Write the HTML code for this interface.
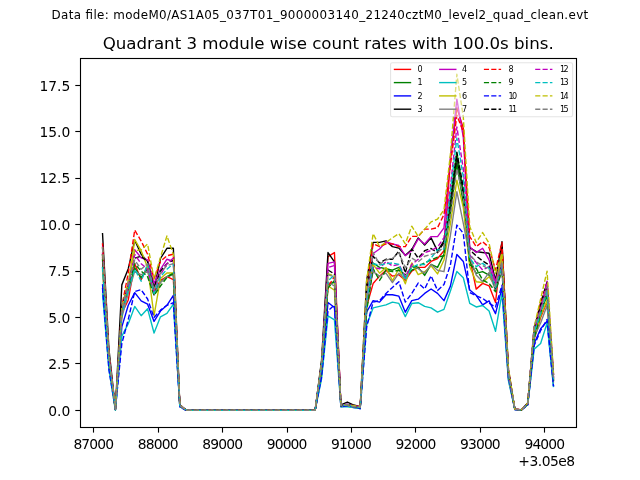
<!DOCTYPE html>
<html><head><meta charset="utf-8"><title>Quadrant 3 module wise count rates</title>
<style>
html,body{margin:0;padding:0;background:#fff;}
svg{display:block;font-family:"DejaVu Sans","Liberation Sans",sans-serif;fill:#000;}
.tl{font-size:13.89px;}
.lg text{font-size:8.04px;}
</style></head><body>
<svg width="640" height="480" viewBox="0 0 640 480">
<rect width="640" height="480" fill="#fff"/>
<text x="51.6" y="19.4" font-size="11.9" textLength="536.6" lengthAdjust="spacing">Data file: modeM0/AS1A05_037T01_9000003140_21240cztM0_level2_quad_clean.evt</text>
<text x="102.7" y="49.2" font-size="16.67" textLength="451" lengthAdjust="spacing">Quadrant 3 module wise count rates with 100.0s bins.</text>
<defs><clipPath id="c"><rect x="80" y="57.6" width="496" height="369.6"/></clipPath></defs>
<g fill="none" stroke-width="1.39" stroke-linejoin="round" stroke-linecap="butt" clip-path="url(#c)">
<polyline points="102.50,257.01 108.94,360.70 115.39,409.50 121.83,313.11 128.27,299.97 134.72,263.70 141.16,279.67 147.60,265.93 154.04,291.55 160.49,280.41 166.93,276.70 173.37,279.67 179.82,405.79 186.26,410.04 192.70,410.40 199.14,410.40 205.59,410.40 212.03,410.40 218.47,410.40 224.92,410.40 231.36,410.40 237.80,410.40 244.25,410.40 250.69,410.40 257.13,410.40 263.57,410.40 270.02,410.40 276.46,410.40 282.90,410.40 289.35,410.40 295.79,410.40 302.23,410.40 308.68,410.40 315.12,410.40 321.56,372.12 328.00,256.64 334.45,252.55 340.89,405.63 347.33,404.61 353.78,406.83 360.22,407.60 366.66,306.41 373.11,283.57 379.55,276.14 385.99,270.20 392.44,276.14 398.88,274.65 405.32,280.41 411.76,271.12 418.21,267.41 424.65,267.41 431.09,261.47 437.54,258.50 443.98,250.70 450.42,159.70 456.86,107.71 463.31,128.14 469.75,258.31 476.19,289.14 482.64,283.38 489.08,285.80 495.52,302.51 501.97,245.13 508.41,371.89 514.85,409.33 521.29,410.05 527.74,404.36 534.18,339.28 540.62,317.49 547.07,301.68 553.51,378.83" stroke="#ff0000"/>
<polyline points="102.50,254.36 108.94,355.49 115.39,409.48 121.83,310.76 128.27,290.20 134.72,267.97 141.16,277.62 147.60,269.27 154.04,293.41 160.49,282.27 166.93,276.70 173.37,272.98 179.82,405.86 186.26,410.03 192.70,410.40 199.14,410.40 205.59,410.40 212.03,410.40 218.47,410.40 224.92,410.40 231.36,410.40 237.80,410.40 244.25,410.40 250.69,410.40 257.13,410.40 263.57,410.40 270.02,410.40 276.46,410.40 282.90,410.40 289.35,410.40 295.79,410.40 302.23,410.40 308.68,410.40 315.12,410.40 321.56,367.44 328.00,284.12 334.45,282.27 340.89,405.81 347.33,404.77 353.78,406.54 360.22,407.56 366.66,307.65 373.11,262.95 379.55,267.41 385.99,268.71 392.44,270.20 398.88,267.41 405.32,277.44 411.76,270.20 418.21,267.41 424.65,275.40 431.09,264.44 437.54,267.41 443.98,254.41 450.42,212.53 456.86,163.42 463.31,203.52 469.75,261.84 476.19,273.35 482.64,271.68 489.08,275.02 495.52,285.05 501.97,263.70 508.41,373.14 514.85,409.34 521.29,410.06 527.74,403.81 534.18,336.28 540.62,312.05 547.07,295.73 553.51,380.69" stroke="#008000"/>
<polyline points="102.50,284.12 108.94,365.83 115.39,409.47 121.83,326.83 128.27,305.29 134.72,292.67 141.16,300.84 147.60,304.18 154.04,321.45 160.49,311.05 166.93,305.29 173.37,295.27 179.82,406.69 186.26,410.40 192.70,410.40 199.14,410.40 205.59,410.40 212.03,410.40 218.47,410.40 224.92,410.40 231.36,410.40 237.80,410.40 244.25,410.40 250.69,410.40 257.13,410.40 263.57,410.40 270.02,410.40 276.46,410.40 282.90,410.40 289.35,410.40 295.79,410.40 302.23,410.40 308.68,410.40 315.12,410.40 321.56,375.12 328.00,302.51 334.45,307.52 340.89,406.69 347.33,405.76 353.78,407.61 360.22,408.54 366.66,311.98 373.11,300.65 379.55,302.14 385.99,294.71 392.44,294.71 398.88,296.19 405.32,312.16 411.76,300.65 418.21,299.17 424.65,293.41 431.09,288.95 437.54,293.41 443.98,300.65 450.42,286.13 456.86,254.41 463.31,261.43 469.75,290.07 476.19,295.27 482.64,304.92 489.08,300.84 495.52,313.65 501.97,287.84 508.41,378.83 514.85,409.47 521.29,410.03 527.74,404.83 534.18,343.55 540.62,328.69 547.07,321.26 553.51,386.26" stroke="#0000ff"/>
<polyline points="102.50,233.06 108.94,349.12 115.39,408.54 121.83,284.87 128.27,268.71 134.72,240.30 141.16,254.23 147.60,261.47 154.04,289.14 160.49,258.50 166.93,248.28 173.37,248.28 179.82,404.83 186.26,410.40 192.70,410.40 199.14,410.40 205.59,410.40 212.03,410.40 218.47,410.40 224.92,410.40 231.36,410.40 237.80,410.40 244.25,410.40 250.69,410.40 257.13,410.40 263.57,410.40 270.02,410.40 276.46,410.40 282.90,410.40 289.35,410.40 295.79,410.40 302.23,410.40 308.68,410.40 315.12,410.40 321.56,360.26 328.00,252.55 334.45,261.84 340.89,404.83 347.33,402.04 353.78,405.01 360.22,406.69 366.66,280.41 373.11,242.34 379.55,242.34 385.99,240.86 392.44,246.61 398.88,248.10 405.32,255.34 411.76,249.58 418.21,237.88 424.65,245.13 431.09,237.88 437.54,251.07 443.98,240.86 450.42,207.87 456.86,156.92 463.31,194.31 469.75,247.54 476.19,251.63 482.64,252.55 489.08,253.30 495.52,280.41 501.97,241.60 508.41,369.55 514.85,409.10 521.29,409.84 527.74,402.97 534.18,328.69 540.62,306.41 547.07,287.84 553.51,375.12" stroke="#000000"/>
<polyline points="102.50,252.55 108.94,356.55 115.39,408.54 121.83,308.26 128.27,284.12 134.72,249.77 141.16,257.75 147.60,259.98 154.04,283.38 160.49,269.27 166.93,259.24 173.37,261.47 179.82,404.83 186.26,410.40 192.70,410.40 199.14,410.40 205.59,410.40 212.03,410.40 218.47,410.40 224.92,410.40 231.36,410.40 237.80,410.40 244.25,410.40 250.69,410.40 257.13,410.40 263.57,410.40 270.02,410.40 276.46,410.40 282.90,410.40 289.35,410.40 295.79,410.40 302.23,410.40 308.68,410.40 315.12,410.40 321.56,363.97 328.00,263.33 334.45,261.84 340.89,404.83 347.33,404.83 353.78,405.76 360.22,406.69 366.66,295.27 373.11,253.48 379.55,249.03 385.99,241.78 392.44,244.01 398.88,245.50 405.32,255.71 411.76,250.70 418.21,238.81 424.65,244.01 431.09,236.58 437.54,236.58 443.98,227.86 450.42,157.85 456.86,99.17 463.31,137.42 469.75,246.98 476.19,252.55 482.64,248.28 489.08,259.98 495.52,281.71 501.97,258.13 508.41,371.40 514.85,409.10 521.29,409.84 527.74,402.97 534.18,332.41 540.62,308.26 547.07,289.69 553.51,376.97" stroke="#bf00bf"/>
<polyline points="102.50,293.41 108.94,369.55 115.39,410.40 121.83,336.12 128.27,323.68 134.72,306.41 141.16,315.69 147.60,308.82 154.04,332.96 160.49,316.81 166.93,313.46 173.37,304.18 179.82,406.69 186.26,410.40 192.70,410.40 199.14,410.40 205.59,410.40 212.03,410.40 218.47,410.40 224.92,410.40 231.36,410.40 237.80,410.40 244.25,410.40 250.69,410.40 257.13,410.40 263.57,410.40 270.02,410.40 276.46,410.40 282.90,410.40 289.35,410.40 295.79,410.40 302.23,410.40 308.68,410.40 315.12,410.40 321.56,378.83 328.00,315.88 334.45,319.96 340.89,406.69 347.33,406.69 353.78,407.61 360.22,408.54 366.66,324.98 373.11,307.89 379.55,306.41 385.99,304.92 392.44,302.14 398.88,303.44 405.32,316.62 411.76,303.44 418.21,302.69 424.65,306.41 431.09,307.89 437.54,312.16 443.98,309.38 450.42,290.94 456.86,271.50 463.31,277.75 469.75,303.44 476.19,306.97 482.64,305.48 489.08,311.05 495.52,331.29 501.97,293.41 508.41,380.69 514.85,409.47 521.29,410.03 527.74,404.83 534.18,349.12 540.62,343.55 547.07,323.12 553.51,387.19" stroke="#00bfbf"/>
<polyline points="102.50,269.20 108.94,362.08 115.39,409.52 121.83,313.84 128.27,285.98 134.72,239.56 141.16,250.70 147.60,267.41 154.04,315.69 160.49,278.55 166.93,272.98 173.37,272.98 179.82,405.73 186.26,410.03 192.70,410.40 199.14,410.40 205.59,410.40 212.03,410.40 218.47,410.40 224.92,410.40 231.36,410.40 237.80,410.40 244.25,410.40 250.69,410.40 257.13,410.40 263.57,410.40 270.02,410.40 276.46,410.40 282.90,410.40 289.35,410.40 295.79,410.40 302.23,410.40 308.68,410.40 315.12,410.40 321.56,370.16 328.00,285.98 334.45,290.07 340.89,405.73 347.33,405.03 353.78,407.09 360.22,407.87 366.66,304.06 373.11,264.44 379.55,273.17 385.99,267.41 392.44,280.78 398.88,268.71 405.32,283.75 411.76,262.95 418.21,274.65 424.65,271.68 431.09,265.93 437.54,273.91 443.98,259.98 450.42,223.75 456.86,180.13 463.31,207.65 469.75,266.67 476.19,281.71 482.64,282.45 489.08,276.70 495.52,286.72 501.97,254.97 508.41,374.98 514.85,409.38 521.29,410.05 527.74,404.02 534.18,338.16 540.62,315.98 547.07,300.59 553.51,380.69" stroke="#bfbf00"/>
<polyline points="102.50,266.68 108.94,360.83 115.39,409.46 121.83,317.55 128.27,293.41 134.72,271.12 141.16,274.84 147.60,271.12 154.04,295.27 160.49,282.27 166.93,276.70 173.37,274.84 179.82,406.10 186.26,410.03 192.70,410.40 199.14,410.40 205.59,410.40 212.03,410.40 218.47,410.40 224.92,410.40 231.36,410.40 237.80,410.40 244.25,410.40 250.69,410.40 257.13,410.40 263.57,410.40 270.02,410.40 276.46,410.40 282.90,410.40 289.35,410.40 295.79,410.40 302.23,410.40 308.68,410.40 315.12,410.40 321.56,369.27 328.00,282.27 334.45,285.98 340.89,406.09 347.33,405.33 353.78,406.89 360.22,407.70 366.66,303.43 373.11,271.68 379.55,276.14 385.99,273.17 392.44,282.64 398.88,273.17 405.32,278.92 411.76,265.93 418.21,268.71 424.65,273.17 431.09,264.44 437.54,270.20 443.98,271.68 450.42,235.26 456.86,191.65 463.31,223.33 469.75,256.64 476.19,275.02 482.64,281.71 489.08,272.42 495.52,290.81 501.97,271.12 508.41,377.69 514.85,409.35 521.29,410.04 527.74,404.27 534.18,336.98 540.62,322.96 547.07,305.51 553.51,382.54" stroke="#808080"/>
<polyline points="102.50,243.27 108.94,354.69 115.39,408.54 121.83,306.41 128.27,272.98 134.72,230.09 141.16,241.04 147.60,254.23 154.04,278.92 160.49,261.47 166.93,255.71 173.37,254.23 179.82,404.83 186.26,410.40 192.70,410.40 199.14,410.40 205.59,410.40 212.03,410.40 218.47,410.40 224.92,410.40 231.36,410.40 237.80,410.40 244.25,410.40 250.69,410.40 257.13,410.40 263.57,410.40 270.02,410.40 276.46,410.40 282.90,410.40 289.35,410.40 295.79,410.40 302.23,410.40 308.68,410.40 315.12,410.40 321.56,365.83 328.00,286.72 334.45,276.70 340.89,404.83 347.33,404.83 353.78,405.76 360.22,406.69 366.66,289.69 373.11,243.83 379.55,246.61 385.99,243.83 392.44,243.83 398.88,246.61 405.32,246.61 411.76,236.40 418.21,236.40 424.65,229.16 431.09,229.16 437.54,227.67 443.98,214.49 450.42,165.28 456.86,115.14 463.31,131.85 469.75,236.58 476.19,246.61 482.64,241.60 489.08,247.54 495.52,270.01 501.97,242.53 508.41,369.55 514.85,409.10 521.29,409.84 527.74,402.97 534.18,328.69 540.62,302.69 547.07,282.27 553.51,375.12" stroke="#ff0000" stroke-dasharray="5.14 2.22"/>
<polyline points="102.50,259.14 108.94,361.64 115.39,409.51 121.83,310.83 128.27,288.50 134.72,263.70 141.16,271.12 147.60,276.70 154.04,295.27 160.49,285.98 166.93,277.44 173.37,273.17 179.82,405.72 186.26,410.04 192.70,410.40 199.14,410.40 205.59,410.40 212.03,410.40 218.47,410.40 224.92,410.40 231.36,410.40 237.80,410.40 244.25,410.40 250.69,410.40 257.13,410.40 263.57,410.40 270.02,410.40 276.46,410.40 282.90,410.40 289.35,410.40 295.79,410.40 302.23,410.40 308.68,410.40 315.12,410.40 321.56,371.45 328.00,287.84 334.45,280.41 340.89,405.92 347.33,405.03 353.78,406.75 360.22,407.76 366.66,310.99 373.11,268.71 379.55,280.41 385.99,270.20 392.44,271.68 398.88,270.20 405.32,274.84 411.76,267.41 418.21,265.93 424.65,262.95 431.09,259.98 437.54,257.20 443.98,255.71 450.42,200.86 456.86,152.28 463.31,191.82 469.75,265.00 476.19,268.34 482.64,280.04 489.08,283.38 495.52,291.74 501.97,269.27 508.41,374.15 514.85,409.41 521.29,410.04 527.74,404.12 534.18,338.53 540.62,314.15 547.07,292.14 553.51,380.69" stroke="#008000" stroke-dasharray="5.14 2.22"/>
<polyline points="102.50,287.84 108.94,369.55 115.39,409.47 121.83,343.55 128.27,319.41 134.72,291.55 141.16,289.69 147.60,298.98 154.04,317.55 160.49,310.12 166.93,305.29 173.37,302.69 179.82,406.69 186.26,410.40 192.70,410.40 199.14,410.40 205.59,410.40 212.03,410.40 218.47,410.40 224.92,410.40 231.36,410.40 237.80,410.40 244.25,410.40 250.69,410.40 257.13,410.40 263.57,410.40 270.02,410.40 276.46,410.40 282.90,410.40 289.35,410.40 295.79,410.40 302.23,410.40 308.68,410.40 315.12,410.40 321.56,376.97 328.00,310.86 334.45,305.11 340.89,406.69 347.33,405.76 353.78,406.69 360.22,408.54 366.66,326.83 373.11,302.14 379.55,300.65 385.99,293.41 392.44,287.47 398.88,281.71 405.32,302.14 411.76,293.41 418.21,283.01 424.65,288.95 431.09,275.77 437.54,290.44 443.98,284.50 450.42,264.77 456.86,225.07 463.31,233.41 469.75,292.48 476.19,295.82 482.64,298.42 489.08,303.25 495.52,306.97 501.97,285.24 508.41,376.97 514.85,409.47 521.29,410.03 527.74,404.83 534.18,345.40 540.62,330.55 547.07,319.41 553.51,386.26" stroke="#0000ff" stroke-dasharray="5.14 2.22"/>
<polyline points="102.50,254.05 108.94,354.09 115.39,409.38 121.83,306.41 128.27,284.12 134.72,258.13 141.16,256.27 147.60,261.84 154.04,287.84 160.49,271.12 166.93,263.70 173.37,259.98 179.82,405.18 186.26,410.00 192.70,410.40 199.14,410.40 205.59,410.40 212.03,410.40 218.47,410.40 224.92,410.40 231.36,410.40 237.80,410.40 244.25,410.40 250.69,410.40 257.13,410.40 263.57,410.40 270.02,410.40 276.46,410.40 282.90,410.40 289.35,410.40 295.79,410.40 302.23,410.40 308.68,410.40 315.12,410.40 321.56,362.55 328.00,270.01 334.45,274.10 340.89,405.63 347.33,404.29 353.78,406.37 360.22,407.56 366.66,288.70 373.11,256.27 379.55,262.95 385.99,259.24 392.44,259.24 398.88,251.26 405.32,272.98 411.76,248.84 418.21,258.13 424.65,250.70 431.09,248.47 437.54,252.74 443.98,242.53 450.42,199.30 456.86,152.28 463.31,187.68 469.75,249.96 476.19,255.90 482.64,260.91 489.08,265.00 495.52,288.40 501.97,263.33 508.41,371.23 514.85,409.21 521.29,410.01 527.74,403.16 534.18,328.48 540.62,304.22 547.07,281.95 553.51,378.83" stroke="#000000" stroke-dasharray="5.14 2.22"/>
<polyline points="102.50,246.34 108.94,354.32 115.39,409.40 121.83,311.98 128.27,285.98 134.72,254.41 141.16,263.70 147.60,269.27 154.04,291.55 160.49,274.84 166.93,263.70 173.37,258.13 179.82,405.43 186.26,410.01 192.70,410.40 199.14,410.40 205.59,410.40 212.03,410.40 218.47,410.40 224.92,410.40 231.36,410.40 237.80,410.40 244.25,410.40 250.69,410.40 257.13,410.40 263.57,410.40 270.02,410.40 276.46,410.40 282.90,410.40 289.35,410.40 295.79,410.40 302.23,410.40 308.68,410.40 315.12,410.40 321.56,364.69 328.00,267.41 334.45,265.55 340.89,405.18 347.33,404.06 353.78,406.50 360.22,407.31 366.66,296.63 373.11,267.41 379.55,268.71 385.99,261.47 392.44,265.93 398.88,264.44 405.32,276.70 411.76,264.44 418.21,259.24 424.65,252.74 431.09,250.51 437.54,246.98 443.98,237.70 450.42,187.03 456.86,126.84 463.31,168.96 469.75,254.97 476.19,262.58 482.64,270.01 489.08,266.67 495.52,283.38 501.97,266.67 508.41,372.40 514.85,409.16 521.29,410.00 527.74,403.50 534.18,325.74 540.62,309.51 547.07,281.19 553.51,377.90" stroke="#bf00bf" stroke-dasharray="5.14 2.22"/>
<polyline points="102.50,267.13 108.94,359.51 115.39,409.51 121.83,313.84 128.27,289.69 134.72,269.27 141.16,281.15 147.60,263.70 154.04,293.41 160.49,276.70 166.93,269.27 173.37,263.70 179.82,405.77 186.26,410.01 192.70,410.40 199.14,410.40 205.59,410.40 212.03,410.40 218.47,410.40 224.92,410.40 231.36,410.40 237.80,410.40 244.25,410.40 250.69,410.40 257.13,410.40 263.57,410.40 270.02,410.40 276.46,410.40 282.90,410.40 289.35,410.40 295.79,410.40 302.23,410.40 308.68,410.40 315.12,410.40 321.56,366.01 328.00,280.78 334.45,274.84 340.89,405.56 347.33,404.72 353.78,406.48 360.22,407.63 366.66,299.56 373.11,263.70 379.55,265.18 385.99,263.70 392.44,262.95 398.88,264.44 405.32,279.67 411.76,267.41 418.21,264.44 424.65,264.44 431.09,257.94 437.54,249.77 443.98,249.03 450.42,190.57 456.86,138.16 463.31,176.80 469.75,258.13 476.19,266.67 482.64,263.33 489.08,268.34 495.52,287.84 501.97,265.55 508.41,373.29 514.85,409.28 521.29,410.01 527.74,403.42 534.18,331.82 540.62,313.83 547.07,290.81 553.51,379.76" stroke="#00bfbf" stroke-dasharray="5.14 2.22"/>
<polyline points="102.50,246.98 108.94,354.69 115.39,408.54 121.83,308.26 128.27,280.41 134.72,250.70 141.16,249.77 147.60,244.01 154.04,278.92 160.49,257.38 166.93,235.84 173.37,254.41 179.82,404.83 186.26,410.40 192.70,410.40 199.14,410.40 205.59,410.40 212.03,410.40 218.47,410.40 224.92,410.40 231.36,410.40 237.80,410.40 244.25,410.40 250.69,410.40 257.13,410.40 263.57,410.40 270.02,410.40 276.46,410.40 282.90,410.40 289.35,410.40 295.79,410.40 302.23,410.40 308.68,410.40 315.12,410.40 321.56,362.12 328.00,273.91 334.45,275.77 340.89,404.83 347.33,404.83 353.78,405.76 360.22,406.69 366.66,280.41 373.11,233.61 379.55,246.61 385.99,242.34 392.44,237.88 398.88,233.61 405.32,243.83 411.76,226.19 418.21,236.40 424.65,229.16 431.09,221.91 437.54,219.13 443.98,209.84 450.42,154.13 456.86,74.28 463.31,116.99 469.75,226.56 476.19,242.53 482.64,232.50 489.08,243.27 495.52,273.35 501.97,253.30 508.41,367.69 514.85,409.10 521.29,409.84 527.74,402.97 534.18,326.83 540.62,298.98 547.07,271.12 553.51,373.26" stroke="#bfbf00" stroke-dasharray="5.14 2.22"/>
<polyline points="102.50,247.34 108.94,355.05 115.39,409.44 121.83,310.12 128.27,282.27 134.72,259.98 141.16,269.27 147.60,263.70 154.04,289.69 160.49,272.98 166.93,265.55 173.37,263.70 179.82,405.41 186.26,410.00 192.70,410.40 199.14,410.40 205.59,410.40 212.03,410.40 218.47,410.40 224.92,410.40 231.36,410.40 237.80,410.40 244.25,410.40 250.69,410.40 257.13,410.40 263.57,410.40 270.02,410.40 276.46,410.40 282.90,410.40 289.35,410.40 295.79,410.40 302.23,410.40 308.68,410.40 315.12,410.40 321.56,364.40 328.00,274.84 334.45,276.70 340.89,405.38 347.33,404.36 353.78,406.68 360.22,407.41 366.66,294.25 373.11,252.55 379.55,264.44 385.99,259.98 392.44,258.50 398.88,252.74 405.32,267.41 411.76,258.13 418.21,261.84 424.65,256.27 431.09,254.41 437.54,252.55 443.98,246.98 450.42,215.11 456.86,168.99 463.31,197.06 469.75,254.41 476.19,261.84 482.64,265.55 489.08,269.27 495.52,285.98 501.97,261.84 508.41,371.30 514.85,409.20 521.29,410.01 527.74,403.56 534.18,326.49 540.62,310.80 547.07,286.37 553.51,378.83" stroke="#808080" stroke-dasharray="5.14 2.22"/>
</g>
<g stroke="#000" stroke-width="1.11"><line x1="93.50" y1="427.50" x2="93.50" y2="432.60"/><line x1="158.50" y1="427.50" x2="158.50" y2="432.60"/><line x1="222.50" y1="427.50" x2="222.50" y2="432.60"/><line x1="287.50" y1="427.50" x2="287.50" y2="432.60"/><line x1="351.50" y1="427.50" x2="351.50" y2="432.60"/><line x1="415.50" y1="427.50" x2="415.50" y2="432.60"/><line x1="480.50" y1="427.50" x2="480.50" y2="432.60"/><line x1="544.50" y1="427.50" x2="544.50" y2="432.60"/><line x1="75.30" y1="410.50" x2="80.50" y2="410.50"/><line x1="75.30" y1="363.50" x2="80.50" y2="363.50"/><line x1="75.30" y1="317.50" x2="80.50" y2="317.50"/><line x1="75.30" y1="271.50" x2="80.50" y2="271.50"/><line x1="75.30" y1="224.50" x2="80.50" y2="224.50"/><line x1="75.30" y1="178.50" x2="80.50" y2="178.50"/><line x1="75.30" y1="131.50" x2="80.50" y2="131.50"/><line x1="75.30" y1="85.50" x2="80.50" y2="85.50"/></g>
<rect x="80.5" y="58.5" width="496" height="369" fill="none" stroke="#000" stroke-width="1.11"/>
<g class="tl"><text x="73.40" y="448.7" textLength="40.7" lengthAdjust="spacing">87000</text><text x="137.83" y="448.7" textLength="40.7" lengthAdjust="spacing">88000</text><text x="202.26" y="448.7" textLength="40.7" lengthAdjust="spacing">89000</text><text x="266.69" y="448.7" textLength="40.7" lengthAdjust="spacing">90000</text><text x="331.12" y="448.7" textLength="40.7" lengthAdjust="spacing">91000</text><text x="395.55" y="448.7" textLength="40.7" lengthAdjust="spacing">92000</text><text x="459.98" y="448.7" textLength="40.7" lengthAdjust="spacing">93000</text><text x="524.41" y="448.7" textLength="40.7" lengthAdjust="spacing">94000</text><text x="70.3" y="415.60" text-anchor="end">0.0</text><text x="70.3" y="369.17" text-anchor="end">2.5</text><text x="70.3" y="322.75" text-anchor="end">5.0</text><text x="70.3" y="276.32" text-anchor="end">7.5</text><text x="70.3" y="229.90" text-anchor="end">10.0</text><text x="70.3" y="183.47" text-anchor="end">12.5</text><text x="70.3" y="137.05" text-anchor="end">15.0</text><text x="70.3" y="90.63" text-anchor="end">17.5</text><text x="518.3" y="466.4" textLength="56.9" lengthAdjust="spacing">+3.05e8</text></g>
<g class="lg">
<rect x="390.55" y="62.7" width="182.05" height="54.1" rx="1.7" ry="1.7" fill="#fff" fill-opacity="0.5" stroke="#ccc" stroke-opacity="0.5" stroke-width="1.11"/>
<line x1="394.5" y1="69.4" x2="410.5" y2="69.4" stroke="#ff0000" stroke-width="1.39" stroke-linecap="square"/>
<text x="417.4" y="72.1">0</text>
<line x1="394.5" y1="82.6" x2="410.5" y2="82.6" stroke="#008000" stroke-width="1.39" stroke-linecap="square"/>
<text x="417.4" y="85.3">1</text>
<line x1="394.5" y1="95.9" x2="410.5" y2="95.9" stroke="#0000ff" stroke-width="1.39" stroke-linecap="square"/>
<text x="417.4" y="98.6">2</text>
<line x1="394.5" y1="109.2" x2="410.5" y2="109.2" stroke="#000000" stroke-width="1.39" stroke-linecap="square"/>
<text x="417.4" y="111.9">3</text>
<line x1="439.8" y1="69.4" x2="455.8" y2="69.4" stroke="#bf00bf" stroke-width="1.39" stroke-linecap="square"/>
<text x="462.0" y="72.1">4</text>
<line x1="439.8" y1="82.6" x2="455.8" y2="82.6" stroke="#00bfbf" stroke-width="1.39" stroke-linecap="square"/>
<text x="462.0" y="85.3">5</text>
<line x1="439.8" y1="95.9" x2="455.8" y2="95.9" stroke="#bfbf00" stroke-width="1.39" stroke-linecap="square"/>
<text x="462.0" y="98.6">6</text>
<line x1="439.8" y1="109.2" x2="455.8" y2="109.2" stroke="#808080" stroke-width="1.39" stroke-linecap="square"/>
<text x="462.0" y="111.9">7</text>
<line x1="483.9" y1="69.4" x2="501.1" y2="69.4" stroke="#ff0000" stroke-width="1.39" stroke-dasharray="5.14 2.22"/>
<text x="508.5" y="72.1">8</text>
<line x1="483.9" y1="82.6" x2="501.1" y2="82.6" stroke="#008000" stroke-width="1.39" stroke-dasharray="5.14 2.22"/>
<text x="508.5" y="85.3">9</text>
<line x1="483.9" y1="95.9" x2="501.1" y2="95.9" stroke="#0000ff" stroke-width="1.39" stroke-dasharray="5.14 2.22"/>
<text x="508.5" y="98.6" textLength="8.5" lengthAdjust="spacing">10</text>
<line x1="483.9" y1="109.2" x2="501.1" y2="109.2" stroke="#000000" stroke-width="1.39" stroke-dasharray="5.14 2.22"/>
<text x="508.5" y="111.9" textLength="8.5" lengthAdjust="spacing">11</text>
<line x1="535.2" y1="69.4" x2="552.4" y2="69.4" stroke="#bf00bf" stroke-width="1.39" stroke-dasharray="5.14 2.22"/>
<text x="560.0" y="72.1" textLength="8.5" lengthAdjust="spacing">12</text>
<line x1="535.2" y1="82.6" x2="552.4" y2="82.6" stroke="#00bfbf" stroke-width="1.39" stroke-dasharray="5.14 2.22"/>
<text x="560.0" y="85.3" textLength="8.5" lengthAdjust="spacing">13</text>
<line x1="535.2" y1="95.9" x2="552.4" y2="95.9" stroke="#bfbf00" stroke-width="1.39" stroke-dasharray="5.14 2.22"/>
<text x="560.0" y="98.6" textLength="8.5" lengthAdjust="spacing">14</text>
<line x1="535.2" y1="109.2" x2="552.4" y2="109.2" stroke="#808080" stroke-width="1.39" stroke-dasharray="5.14 2.22"/>
<text x="560.0" y="111.9" textLength="8.5" lengthAdjust="spacing">15</text>
</g>
</svg>
</body></html>
